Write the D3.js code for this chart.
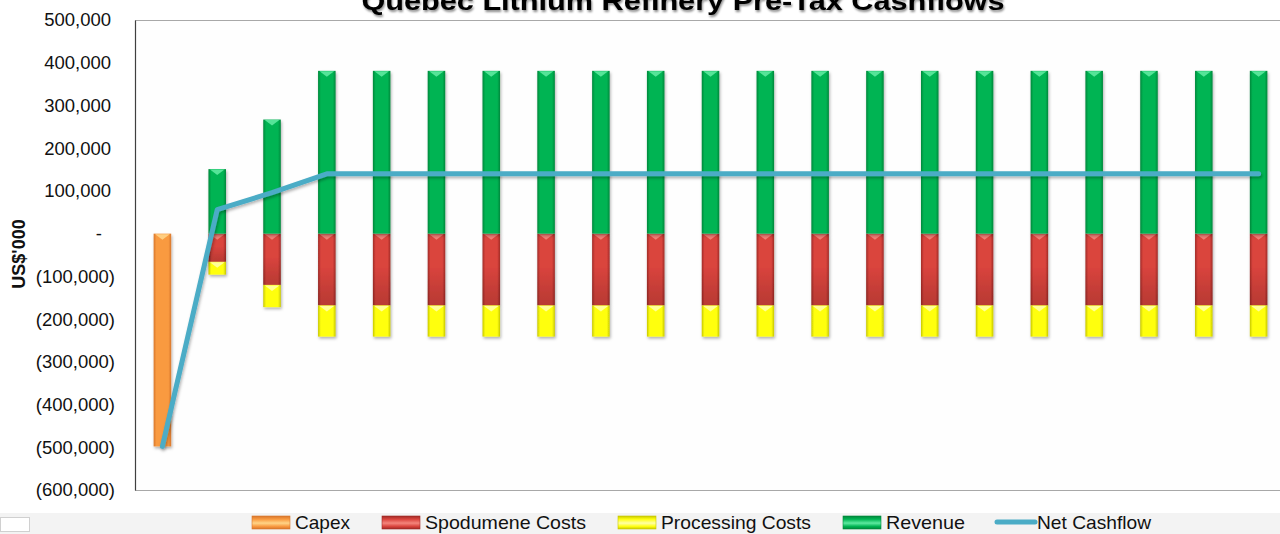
<!DOCTYPE html>
<html>
<head>
<meta charset="utf-8">
<script src="https://cdn.jsdelivr.net/npm/d3@7"></script>
<style>
body { margin: 0; background: #fff; }
svg { display: block; font-family: "Liberation Sans", Arial, sans-serif; }
</style>
</head>
<body>
<svg id="chart" width="1280" height="534"></svg>
<script>
// values in US$'000, one per project year
var years = [0, 1, 2, 3, 4, 5, 6, 7, 8, 9, 10, 11, 12, 13, 14, 15, 16, 17, 18, 19, 20];
var capex = [-498000, 0, 0, 0, 0, 0, 0, 0, 0, 0, 0, 0, 0, 0, 0, 0, 0, 0, 0, 0, 0];
var spodumene = [0, -66000, -120000, -168000, -168000, -168000, -168000, -168000, -168000, -168000, -168000,
    -168000, -168000, -168000, -168000, -168000, -168000, -168000, -168000, -168000, -168000];
var processing = [0, -30000, -52000, -73000, -73000, -73000, -73000, -73000, -73000, -73000, -73000,
    -73000, -73000, -73000, -73000, -73000, -73000, -73000, -73000, -73000, -73000];
var revenue = [0, 151000, 267000, 381000, 381000, 381000, 381000, 381000, 381000, 381000, 381000,
    381000, 381000, 381000, 381000, 381000, 381000, 381000, 381000, 381000, 381000];
var netCashflow = [-498000, 56000, 96000, 140000, 140000, 140000, 140000, 140000, 140000, 140000, 140000,
    140000, 140000, 140000, 140000, 140000, 140000, 140000, 140000, 140000, 140000];
var yTicks = [500000, 400000, 300000, 200000, 100000, 0, -100000, -200000, -300000, -400000, -500000, -600000];
var seriesNames = ["Capex", "Spodumene Costs", "Processing Costs", "Revenue"];
var lineName = "Net Cashflow";

var svg = d3.select("#chart");
var plot = {left: 135, top: 20, bottom: 490, step: 54.81};

// colours: edge, main, highlight
var pal = {
    "Capex": ["#d8772c", "#f99a40", "#ffd487"],
    "Spodumene Costs": ["#a02b27", "#da443d", "#f4857c"],
    "Processing Costs": ["#c8c800", "#ffff10", "#ffffa8"],
    "Revenue": ["#00873b", "#00b453", "#5ee9a0"]
};
var lineColor = "#4bacc6";

var rows = years.map(function(yr, i) {
    return {year: yr, "Capex": capex[i], "Spodumene Costs": spodumene[i],
        "Processing Costs": processing[i], "Revenue": revenue[i]};
});

var x = d3.scaleBand()
    .domain(years)
    .range([plot.left, plot.left + years.length * plot.step])
    .paddingInner(0.68)
    .paddingOuter(0.34);
var y = d3.scaleLinear()
    .domain([-600000, 500000])
    .range([plot.bottom, plot.top]);

var defs = svg.append("defs");
seriesNames.forEach(function(name, k) {
    var c = pal[name];
    var g = defs.append("linearGradient").attr("id", "hg" + k).attr("x1", 0).attr("x2", 1).attr("y1", 0).attr("y2", 0);
    g.append("stop").attr("offset", "0%").attr("stop-color", c[0]);
    g.append("stop").attr("offset", "16%").attr("stop-color", c[1]);
    g.append("stop").attr("offset", "84%").attr("stop-color", c[1]);
    g.append("stop").attr("offset", "100%").attr("stop-color", c[0]);
    var v = defs.append("linearGradient").attr("id", "vg" + k).attr("x1", 0).attr("x2", 0).attr("y1", 0).attr("y2", 1);
    v.append("stop").attr("offset", "0%").attr("stop-color", c[0]);
    v.append("stop").attr("offset", "25%").attr("stop-color", c[1]);
    v.append("stop").attr("offset", "55%").attr("stop-color", c[2]);
    v.append("stop").attr("offset", "80%").attr("stop-color", c[1]);
    v.append("stop").attr("offset", "100%").attr("stop-color", c[0]);
});
var dk = defs.append("linearGradient").attr("id", "shade").attr("x1", 0).attr("x2", 0).attr("y1", 0).attr("y2", 1);
dk.append("stop").attr("offset", "0%").attr("stop-color", "#000").attr("stop-opacity", 0);
dk.append("stop").attr("offset", "45%").attr("stop-color", "#000").attr("stop-opacity", 0);
dk.append("stop").attr("offset", "85%").attr("stop-color", "#000").attr("stop-opacity", 0.12);
dk.append("stop").attr("offset", "100%").attr("stop-color", "#000").attr("stop-opacity", 0.15);

var sh = defs.append("filter").attr("id", "shadow").attr("x", "-50%").attr("y", "-10%").attr("width", "200%").attr("height", "130%");
sh.append("feDropShadow").attr("dx", 1).attr("dy", 2).attr("stdDeviation", 1.5)
    .attr("flood-color", "#000").attr("flood-opacity", 0.3);
var tsh = defs.append("filter").attr("id", "tshadow").attr("x", "-5%").attr("y", "-50%").attr("width", "110%").attr("height", "200%");
tsh.append("feDropShadow").attr("dx", 1).attr("dy", 2).attr("stdDeviation", 1.2)
    .attr("flood-color", "#000").attr("flood-opacity", 0.45);

// legend band + stray box at bottom left
svg.append("rect").attr("x", 0).attr("y", 513).attr("width", 1280).attr("height", 21).attr("fill", "#f3f3f3");
svg.append("rect").attr("x", 0.5).attr("y", 517.5).attr("width", 29).attr("height", 14)
    .attr("fill", "#fff").attr("stroke", "#d0d0d0");

// plot frame
svg.append("rect").attr("x", plot.left).attr("y", plot.top).attr("width", 1280 - plot.left)
    .attr("height", plot.bottom - plot.top).attr("fill", "#fefefe");
svg.append("line").attr("x1", plot.left).attr("x2", 1280).attr("y1", plot.top + 0.5).attr("y2", plot.top + 0.5)
    .attr("stroke", "#a8a8a8");
svg.append("line").attr("x1", plot.left).attr("x2", 1280).attr("y1", plot.bottom + 0.5).attr("y2", plot.bottom + 0.5)
    .attr("stroke", "#a8a8a8");

// title (cut off at top like the source)
svg.append("text")
    .attr("x", 683).attr("y", 10)
    .attr("text-anchor", "middle")
    .attr("font-size", 26).attr("font-weight", "bold")
    .attr("textLength", 643).attr("lengthAdjust", "spacingAndGlyphs")
    .attr("filter", "url(#tshadow)")
    .text("Quebec Lithium Refinery Pre-Tax Cashflows");

// y axis
var yAxis = svg.append("g")
    .attr("transform", "translate(" + plot.left + ",0)")
    .call(d3.axisLeft(y).tickValues(yTicks).tickSize(0).tickSizeOuter(0).tickPadding(24)
        .tickFormat(function(v) {
            if (v === 0) return "-";
            if (v < 0) return "(" + d3.format(",")(-v) + ")";
            return d3.format(",")(v);
        }));
yAxis.select(".domain").attr("stroke", "#404040").attr("stroke-width", 1.2);
yAxis.selectAll(".tick text")
    .attr("font-size", 18.5).attr("fill", "#111")
    .attr("font-family", "\"Liberation Sans\", Arial, sans-serif")
    .attr("x", function(v) { return v < 0 ? -20 : (v === 0 ? -33 : -24); });

svg.append("text")
    .attr("transform", "translate(25,254) rotate(-90)")
    .attr("text-anchor", "middle")
    .attr("font-size", 18).attr("font-weight", "bold").attr("fill", "#111")
    .text("US$'000");

// stacked bars
var stack = d3.stack().keys(seriesNames).offset(d3.stackOffsetDiverging);
var layers = stack(rows);
var bw = x.bandwidth();

var bars = svg.append("g").attr("class", "bars");
layers.forEach(function(layer, k) {
    var segs = layer.filter(function(d) { return Math.abs(y(d[0]) - y(d[1])) > 0.5; });
    var g = bars.append("g").attr("filter", "url(#shadow)");
    g.selectAll("rect.seg").data(segs).enter().append("rect")
        .attr("class", "seg")
        .attr("x", function(d) { return x(d.data.year); })
        .attr("y", function(d) { return y(d[1]); })
        .attr("width", bw)
        .attr("height", function(d) { return y(d[0]) - y(d[1]); })
        .attr("fill", "url(#hg" + k + ")");
    if (layer.key === "Spodumene Costs") {
        g.selectAll("rect.shade").data(segs).enter().append("rect")
            .attr("class", "shade")
            .attr("x", function(d) { return x(d.data.year); })
            .attr("y", function(d) { return y(d[1]); })
            .attr("width", bw)
            .attr("height", function(d) { return y(d[0]) - y(d[1]); })
            .attr("fill", "url(#shade)");
    }
    g.selectAll("path.bevel").data(segs).enter().append("path")
        .attr("class", "bevel")
        .attr("d", function(d) {
            var x0 = x(d.data.year), y0 = y(d[1]);
            return "M" + (x0 + 1.5) + "," + (y0 + 0.5) + "L" + (x0 + bw - 1.5) + "," + (y0 + 0.5) +
                "L" + (x0 + bw / 2) + "," + (y0 + 6) + "Z";
        })
        .attr("fill", pal[layer.key][2])
        .attr("opacity", 0.9);
});

// net cashflow line
var line = d3.line()
    .x(function(d, i) { return x(years[i]) + bw / 2; })
    .y(function(d) { return y(d); });
svg.append("path")
    .datum(netCashflow)
    .attr("d", line)
    .attr("fill", "none")
    .attr("stroke", lineColor)
    .attr("stroke-width", 5)
    .attr("stroke-linecap", "round")
    .attr("stroke-linejoin", "round")
    .attr("filter", "url(#shadow)");

// legend
var legendItems = seriesNames.concat([lineName]);
var legendWidths = [55, 161, 150, 79, 114];
var lx = 252;
var legend = svg.append("g").attr("class", "legend");
legendItems.forEach(function(name, k) {
    if (k < seriesNames.length) {
        legend.append("rect").attr("x", lx).attr("y", 516).attr("width", 38).attr("height", 13)
            .attr("fill", "url(#vg" + k + ")").attr("stroke", pal[name][0]).attr("stroke-width", 0.6);
    } else {
        legend.append("line").attr("x1", lx).attr("x2", lx + 38).attr("y1", 522).attr("y2", 522)
            .attr("stroke", lineColor).attr("stroke-width", 5).attr("stroke-linecap", "round");
    }
    var tx = lx + 38 + (k < seriesNames.length ? 5 : 2);
    legend.append("text")
        .attr("x", tx).attr("y", 529)
        .attr("font-size", 19).attr("fill", "#111")
        .attr("font-family", "\"Liberation Sans Narrow\", \"Liberation Sans\", Arial, sans-serif")
        .attr("textLength", legendWidths[k]).attr("lengthAdjust", "spacingAndGlyphs")
        .text(name);
    lx = tx + legendWidths[k] + 32;
});
</script>
</body>
</html>
